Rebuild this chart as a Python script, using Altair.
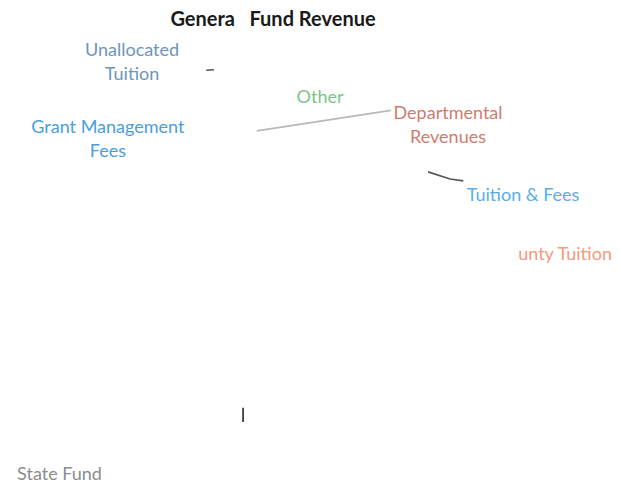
import altair as alt
import pandas as pd

# ---- data -------------------------------------------------------------
categories = ["Tuition & Fees", "County Tuition", "State Fund",
              "Grant Management Fees", "Unallocated Tuition", "Other",
              "Departmental Revenues"]
shares = [27.0, 6.3, 47.8, 2.0, 3.0, 2.2, 11.7]
label_text = ["Tuition & Fees", "unty Tuition", "State Fund",
              "Grant Management\nFees", "Unallocated\nTuition", "Other",
              "Departmental\nRevenues"]
label_colors = ["#5aaee8", "#f59a7a", "#8c8c8c", "#4a9de0", "#6e95bd",
                "#7cc48a", "#cf7b70"]

# ---- layout (polar, relative to pie centre: angle deg clockwise from 12h, distance px)
label_angle = [69.1, 85.05, 231.8, 304.0, 320.1, 2.9, 42.2]
label_dist = [227, 255, 320, 245, 279, 179, 204]

leader_ids = ["dep", "dep", "tf", "tf", "tf", "ua", "ua", "sf", "sf"]
leader_angle = [339.4, 25.9, 48.6, 55.4, 58.3, 332.9, 334.7, 207.1, 204.8]
leader_dist = [154, 183, 156, 169, 179, 230, 227, 149, 162]
leader_color = {"dep": "#b8b8b8", "tf": "#555555", "ua": "#555555", "sf": "#333333"}

W, H = 604, 434
CX, CY = 303, 227  # pie centre in view coordinates
LINE_H = 24

pie_df = pd.DataFrame({"category": categories, "share": shares,
                       "idx": list(range(len(categories)))})
lab_df = pd.DataFrame({"label": label_text, "color": label_colors,
                       "angle": label_angle, "dist": label_dist,
                       "nlines": [t.count("\n") + 1 for t in label_text]})
lead_df = pd.DataFrame({"gid": leader_ids, "angle": leader_angle,
                        "dist": leader_dist,
                        "ord": list(range(len(leader_ids)))})
lead_df["color"] = lead_df["gid"].map(leader_color)

xs = alt.Scale(domain=[0, W], range=[0, W])
ys = alt.Scale(domain=[0, H], range=[0, H])

pie = alt.Chart(pie_df).mark_arc(radius=155, fill="white", stroke="white").encode(
    theta=alt.Theta("share:Q", stack=True),
    order=alt.Order("idx:Q"),
    x=alt.value(CX),
    y=alt.value(CY),
)

labels = alt.Chart(lab_df).transform_calculate(
    px=f"{CX} + datum.dist * sin(datum.angle * PI / 180)",
    py=f"{CY} - datum.dist * cos(datum.angle * PI / 180) + 2 - {LINE_H / 2} * (datum.nlines - 1)",
).mark_text(
    font="Lato", fontSize=18, lineBreak="\n", lineHeight=LINE_H,
    align="center", baseline="middle",
).encode(
    x=alt.X("px:Q", scale=xs, axis=None),
    y=alt.Y("py:Q", scale=ys, axis=None),
    text="label:N",
    color=alt.Color("color:N", scale=None),
)

leaders = alt.Chart(lead_df).transform_calculate(
    px=f"{CX} + datum.dist * sin(datum.angle * PI / 180)",
    py=f"{CY} - datum.dist * cos(datum.angle * PI / 180)",
).mark_line(strokeWidth=1.7).encode(
    x=alt.X("px:Q", scale=xs, axis=None),
    y=alt.Y("py:Q", scale=ys, axis=None),
    detail="gid:N",
    order=alt.Order("ord:Q"),
    color=alt.Color("color:N", scale=None),
)

chart = alt.layer(pie, leaders, labels).properties(
    width=W, height=H,
    padding={"left": 0, "top": 40, "right": 0, "bottom": 0},
    autosize=alt.AutoSizeParams(type="none"),
    title=alt.TitleParams("Genera\u00a0\u00a0\u00a0Fund Revenue", font="Lato",
                          fontSize=20, fontWeight="bold", color="#1a1a1a",
                          anchor="middle", frame="group", dx=-37, offset=12),
).configure(background="white").configure_view(strokeWidth=0)

chart.save("out.html", embed_options={"renderer": "svg", "actions": False})
